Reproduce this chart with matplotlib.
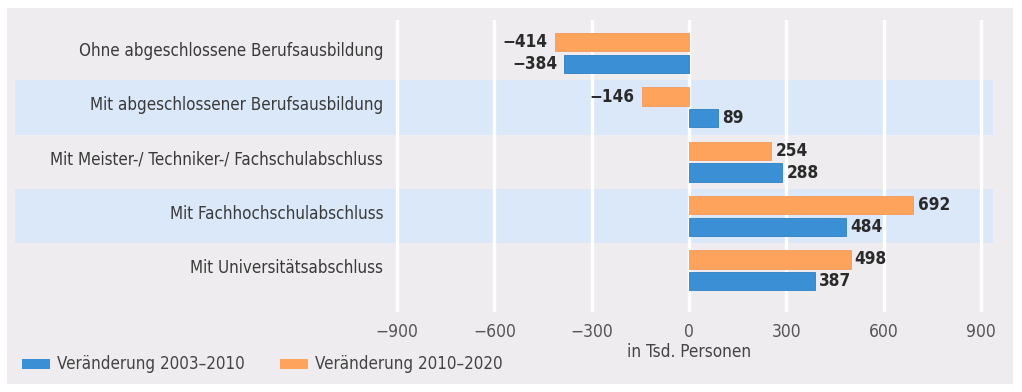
import matplotlib
matplotlib.use("Agg")
import matplotlib.pyplot as plt
from matplotlib.patches import Rectangle
import matplotlib.transforms as mtransforms

categories = [
    "Ohne abgeschlossene Berufsausbildung",
    "Mit abgeschlossener Berufsausbildung",
    "Mit Meister-/ Techniker-/ Fachschulabschluss",
    "Mit Fachhochschulabschluss",
    "Mit Universitätsabschluss",
]
change_2003_2010 = [-384, 89, 288, 484, 387]
change_2010_2020 = [-414, -146, 254, 692, 498]
xticks = [-900, -600, -300, 0, 300, 600, 900]
series_labels = ["Veränderung 2003–2010", "Veränderung 2010–2020"]
xlabel = "in Tsd. Personen"

BLUE = "#3a8fd5"
ORANGE = "#fda35b"
BAND = "#dbe8f9"
BG = "#eeecee"

W, H = 1022, 392
fig = plt.figure(figsize=(W / 100, H / 100), dpi=100)
fig.patch.set_facecolor("white")
fig.patches.append(Rectangle((7 / W, 8 / H), (1013 - 7) / W, (384 - 8) / H,
                             transform=fig.transFigure, facecolor=BG,
                             edgecolor="none", zorder=-10))

# axes in pixel coordinates
x0, x1 = 15, 993
y_top, y_bot = 20, 312
ax = fig.add_axes([x0 / W, 1 - y_bot / H, (x1 - x0) / W, (y_bot - y_top) / H])
ax.set_facecolor("none")
ppu = 97.3 / 300.0
ax.set_xlim((x0 - 689) / ppu, (x1 - 689) / ppu)
ax.set_ylim(4.77, -0.61)
for s in ax.spines.values():
    s.set_visible(False)

n = len(categories)
for i in range(n):
    if i % 2 == 1:
        ax.axhspan(i - 0.5, i + 0.5, color=BAND, zorder=0, lw=0)

for v in xticks:
    ax.axvline(v, color="white", lw=2.5, zorder=1)

h = 0.34
off = 0.2
ys = list(range(n))
ax.barh([y - off for y in ys], change_2010_2020, height=h, color=ORANGE, zorder=3,
        edgecolor="#f5995a", lw=0.6)
ax.barh([y + off for y in ys], change_2003_2010, height=h, color=BLUE, zorder=3,
        edgecolor="#2f7fc2", lw=0.6)

def fmt(v):
    return ("\u2212" + str(abs(v))) if v < 0 else str(v)

vfont = dict(family="DejaVu Sans", stretch="condensed", weight="bold", size=12.3, color="#2a2a2a")
for vals, o in ((change_2010_2020, -off), (change_2003_2010, off)):
    for i, v in enumerate(vals):
        ax.annotate(fmt(v), (v, i + o), xytext=(3 if v >= 0 else -5, 0),
                    textcoords="offset points", ha="left" if v >= 0 else "right",
                    va="center", zorder=4, **vfont)

ax.set_yticks([])
ax.set_xticks(xticks)
ax.set_xticklabels([fmt(v) for v in xticks])
ax.tick_params(axis="x", length=0, pad=8, labelsize=12.5, labelcolor="#555555")
for lab in ax.get_xticklabels():
    lab.set_fontstretch("condensed")

trans = mtransforms.blended_transform_factory(fig.transFigure, ax.transData)
cfont = dict(family="DejaVu Sans", stretch="condensed", size=12.2, color="#3a3a3a")
for i, c in enumerate(categories):
    ax.text(383 / W, i - 0.04, c, transform=trans, ha="right", va="center", **cfont)

fig.text(689 / W, 1 - 352 / H, xlabel, ha="center", va="center",
         family="DejaVu Sans", stretch="condensed", size=12.3, color="#444444")

# legend
for (px, col, lab) in ((22, BLUE, series_labels[0]), (280, ORANGE, series_labels[1])):
    fig.patches.append(Rectangle((px / W, 1 - 369 / H), 28 / W, 10 / H,
                                 transform=fig.transFigure, facecolor=col, edgecolor="none"))
    fig.text((px + 35) / W, 1 - 364 / H, lab, ha="left", va="center",
             family="DejaVu Sans", stretch="condensed", size=12.2, color="#444444")

fig.savefig("out.png", dpi=100)
